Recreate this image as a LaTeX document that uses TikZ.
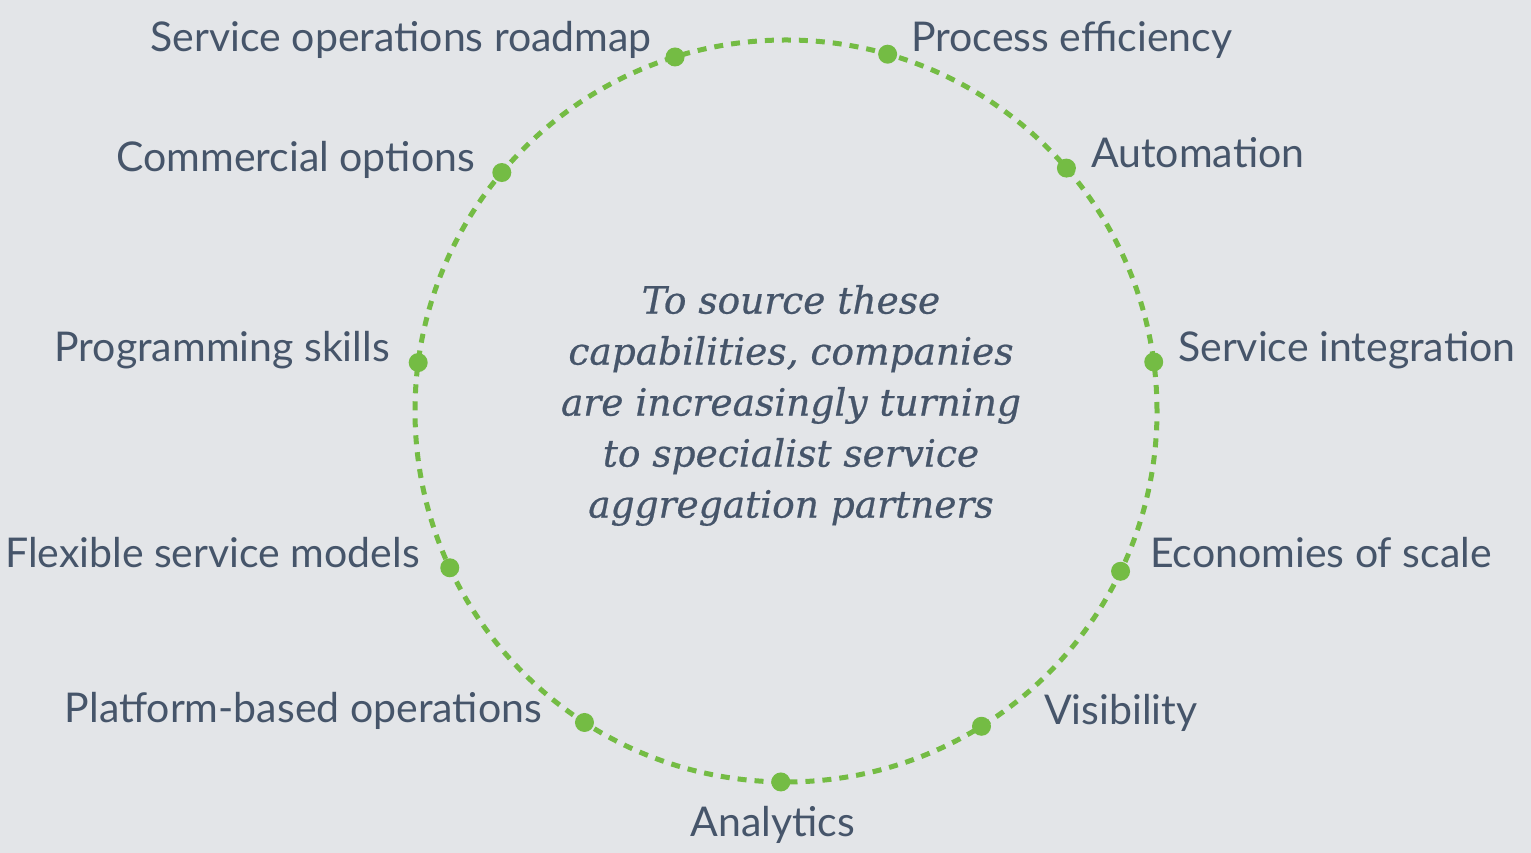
\documentclass[tikz,border=0pt]{standalone}
\usepackage{fontspec}
\setmainfont{Lato}
\newfontfamily\quotefont[ItalicFeatures={FakeBold=0.6}]{DejaVu Serif}
\usepackage{xcolor}
\usetikzlibrary{positioning}
\definecolor{bgGray}{HTML}{E3E5E8}
\definecolor{ringGreen}{HTML}{74BC44}
\definecolor{slateText}{HTML}{46556A}

\tikzset{
  ring/.style={draw=ringGreen, line width=5pt, dash pattern=on 9pt off 8pt},
  capdot/.style={circle, fill=ringGreen, inner sep=0pt, minimum size=19pt},
  caplabel/.style={text=slateText, font=\fontsize{41}{46}\selectfont, inner sep=0pt},
}

\begin{document}
\begin{tikzpicture}[x=1pt,y=1pt]
	\fill[bgGray] (0,0) rectangle (1531,853);
	\useasboundingbox (0,0) rectangle (1531,853);
	\coordinate (c) at (786,442);
	\draw[ring] (c) circle (371pt);
	% dots on the ring
	\node[capdot] (d roadmap)    at ([shift={(c)}]107.4:371) {};
	\node[capdot] (d process)    at ([shift={(c)}]74.1:371) {};
	\node[capdot] (d automation) at ([shift={(c)}]40.9:371) {};
	\node[capdot] (d integration) at ([shift={(c)}]7.6:371) {};
	\node[capdot] (d economies)  at ([shift={(c)}]-25.6:371) {};
	\node[capdot] (d visibility) at ([shift={(c)}]-58.2:371) {};
	\node[capdot] (d analytics)  at ([shift={(c)}]-90.8:371) {};
	\node[capdot] (d platform)   at ([shift={(c)}]-122.9:371) {};
	\node[capdot] (d flexible)   at ([shift={(c)}]-155:371) {};
	\node[capdot] (d programming) at ([shift={(c)}]172.5:371) {};
	\node[capdot] (d commercial) at ([shift={(c)}]140:371) {};
	% labels
	\node[caplabel, anchor=base east] (roadmap) at (652,801) {Service operations roadmap};
	\node[caplabel, anchor=base west] (process) at (911,801) {Process efficiency};
	\node[caplabel, anchor=base west] (automation) at (1091,685) {Automation};
	\node[caplabel, anchor=base west] (integration) at (1178,491) {Service integration};
	\node[caplabel, anchor=base west] (economies) at (1150,285) {Economies of scale};
	\node[caplabel, anchor=base west] (visibility) at (1044,128) {Visibility};
	\node[caplabel, anchor=base] (analytics) at (773,16) {Analytics};
	\node[caplabel, anchor=base east] (platform) at (542,130) {Platform-based operations};
	\node[caplabel, anchor=base east] (flexible) at (420,285) {Flexible service models};
	\node[caplabel, anchor=base east] (programming) at (390,491) {Programming skills};
	\node[caplabel, anchor=base east] (commercial) at (475,681) {Commercial options};
	% centre text
	\node[text=slateText, align=center, inner sep=0pt,
	      font=\quotefont\itshape\fontsize{37.5}{51}\selectfont] (quote) at (791,447.5)
	      {To source these\\capabilities, companies\\are increasingly turning\\to specialist service\\aggregation partners};
\end{tikzpicture}
\end{document}
